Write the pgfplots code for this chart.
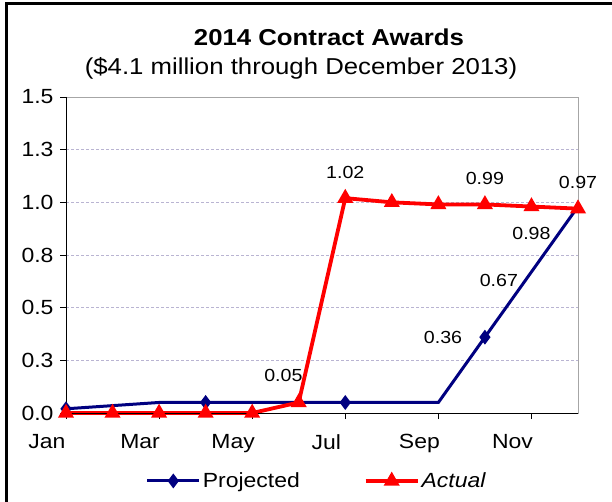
\documentclass[border=0pt]{standalone}
\usepackage{fontspec}
\setmainfont{Liberation Sans}[FakeStretch=1.12]
\usepackage{pgfplots}
\pgfplotsset{compat=1.18}
\definecolor{navyline}{RGB}{0,0,128}
\definecolor{redline}{RGB}{255,0,0}
\definecolor{gridc}{RGB}{185,180,210}

\begin{document}
\begin{tikzpicture}
\useasboundingbox (0pt,0pt) rectangle (612pt,501pt);
\fill[white] (0pt,0pt) rectangle (612pt,501pt);
\draw[line width=3pt] (6.5pt,-5pt) -- (6.5pt,497.5pt) -- (620pt,497.5pt);
\node[font=\fontsize{23}{27}\selectfont\bfseries] at (329pt,464pt) {2014 Contract Awards};
\node[font=\fontsize{23}{27}\selectfont] at (301pt,433pt) {(\$4.1 million through December 2013)};
\begin{axis}[
  at={(66pt,88pt)}, anchor=south west,
  scale only axis, width=512pt, height=316pt,
  xmin=1, xmax=12, ymin=0, ymax=1.5,
  xtick={1,3,5,7,9,11},
  xticklabels={Jan,Mar,May,Jul,Sep,Nov},
  ytick={0,0.25,0.5,0.75,1,1.25,1.5},
  yticklabels={0.0,0.3,0.5,0.8,1.0,1.3,1.5},
  xtick pos=bottom, ytick pos=left,
  tick align=outside, major tick length=6pt,
  tick style={black, line width=0.8pt},
  ticklabel style={font=\fontsize{20.5}{24}\selectfont},
  xticklabel style={xshift=-19pt, yshift=-12pt},
  yticklabel style={xshift=-3pt},
  /pgf/number format/assume math mode=true,
  axis line style={gray!70, line width=0.6pt},
  ymajorgrids=true,
  grid style={gridc, densely dashed, line width=0.6pt},
  clip=false,
  legend style={at={(0.49,-0.215)}, anchor=center, draw=none, fill=none,
    legend columns=2, font=\fontsize{20.5}{24}\selectfont,
    /tikz/every even column/.append style={column sep=62pt}},
  legend image code/.code={\draw[#1, mark repeat=2, mark phase=2] plot coordinates {(0pt,0pt) (26pt,0pt) (52pt,0pt)};},
]
\addplot[navyline, line width=3pt, mark=diamond*, mark size=5pt, mark repeat=3, mark phase=1,
  mark options={solid}]
coordinates {
  (1,0.02) (2,0.035) (3,0.05) (4,0.05) (5,0.05) (6,0.05)
  (7,0.05) (8,0.05) (9,0.05) (10,0.36) (11,0.67) (12,0.98)
};
\addlegendentry{Projected}
\addplot[redline, line width=3.8pt, mark=triangle*, mark size=5.5pt, mark options={solid}]
coordinates {
  (1,0) (2,0) (3,0) (4,0) (5,0) (6,0.05)
  (7,1.02) (8,1.00) (9,0.99) (10,0.99) (11,0.98) (12,0.97)
};
\addlegendentry{\textit{Actual}}
\draw[black, line width=0.9pt] (rel axis cs:0,1) -- (rel axis cs:0,0) -- (rel axis cs:1,0);
\begin{scope}[every node/.style={font=\fontsize{17.5}{20}\selectfont, inner sep=0pt}]
\node at (axis cs:5.67,0.18) {0.05};
\node at (axis cs:7.0,1.144) {1.02};
\node at (axis cs:10.0,1.115) {0.99};
\node at (axis cs:12.0,1.096) {0.97};
\node at (axis cs:11.0,0.854) {0.98};
\node at (axis cs:10.3,0.631) {0.67};
\node at (axis cs:9.1,0.36) {0.36};
\end{scope}
\end{axis}
\end{tikzpicture}
\end{document}
